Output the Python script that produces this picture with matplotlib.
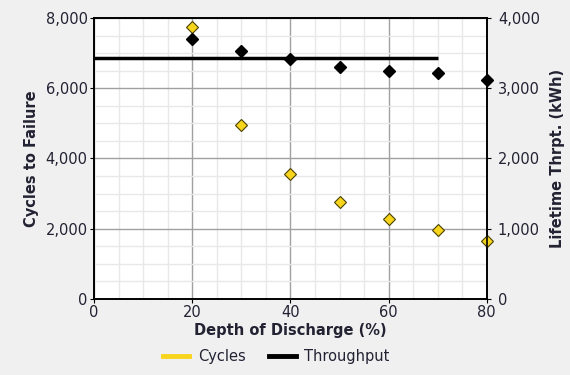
import numpy as np
import matplotlib
matplotlib.use('Agg')
import matplotlib.pyplot as plt
from matplotlib.lines import Line2D
from matplotlib.ticker import FuncFormatter, MultipleLocator

# data
depth = [20, 30, 40, 50, 60, 70, 80]
cycles = [7750, 4960, 3560, 2760, 2280, 1965, 1650]
throughput = [3700, 3530, 3415, 3300, 3245, 3220, 3110]
# horizontal throughput line
line_x = [0, 70]
line_y = [3430, 3430]

plt.rcParams['font.family'] = ['DejaVu Sans']
txt = '#222233'

fig = plt.figure(figsize=(5.7, 3.75), dpi=100, facecolor='#f0f0f0')
ax = fig.add_axes([0.165, 0.203, 0.689, 0.749])
ax.set_facecolor('white')
ax2 = ax.twinx()

# grid
ax.set_xlim(0, 80)
ax.set_ylim(0, 8000)
ax2.set_ylim(0, 4000)
ax.xaxis.set_major_locator(MultipleLocator(20))
ax.xaxis.set_minor_locator(MultipleLocator(5))
ax.yaxis.set_major_locator(MultipleLocator(2000))
ax.yaxis.set_minor_locator(MultipleLocator(500))
ax2.yaxis.set_major_locator(MultipleLocator(1000))
ax.grid(which='major', color='#a0a0a0', lw=1.0)
ax.grid(which='minor', color='#e8e8e8', lw=1.0)
ax.set_axisbelow(True)

fmt = FuncFormatter(lambda v, p: '{:,.0f}'.format(v))
ax.yaxis.set_major_formatter(fmt)
ax2.yaxis.set_major_formatter(fmt)

# series
ax.plot(depth, cycles, ls='none', marker='D', ms=6.5,
        mfc='#f7d51d', mec='#4a4000', mew=0.8, zorder=5, clip_on=False)
ax2.plot(line_x, line_y, color='black', lw=2.5, solid_capstyle='butt', zorder=3)
ax2.plot(depth, throughput, ls='none', marker='D', ms=6, mfc='black', mec='black', zorder=4, clip_on=False)

for a in (ax, ax2):
    for s in a.spines.values():
        s.set_color('black')
        s.set_linewidth(1.2)

ax.tick_params(which='major', direction='out', length=3, color='black', labelsize=10.5, labelcolor=txt, pad=1.5)
ax.tick_params(which='minor', length=0)
ax2.tick_params(which='major', direction='out', length=3, color='black', labelsize=10.5, labelcolor=txt, pad=5)

ax.set_xlabel('Depth of Discharge (%)', fontsize=10.5, fontweight='bold', color=txt, labelpad=2)
ax.set_ylabel('Cycles to Failure', fontsize=10.5, fontweight='bold', color=txt, labelpad=5)
ax2.set_ylabel('Lifetime Thrpt. (kWh)', fontsize=10.5, fontweight='bold', color=txt, labelpad=7)

handles = [Line2D([], [], color='#f7d51d', lw=3.5),
           Line2D([], [], color='black', lw=3.5)]
fig.legend(handles, ['Cycles', 'Throughput'], loc='center', bbox_to_anchor=(0.485, 0.048),
           ncol=2, frameon=False, fontsize=10.5, handlelength=1.8, columnspacing=1.6,
           handletextpad=0.6, labelcolor=txt)

fig.savefig('out.png', dpi=100, facecolor=fig.get_facecolor())
